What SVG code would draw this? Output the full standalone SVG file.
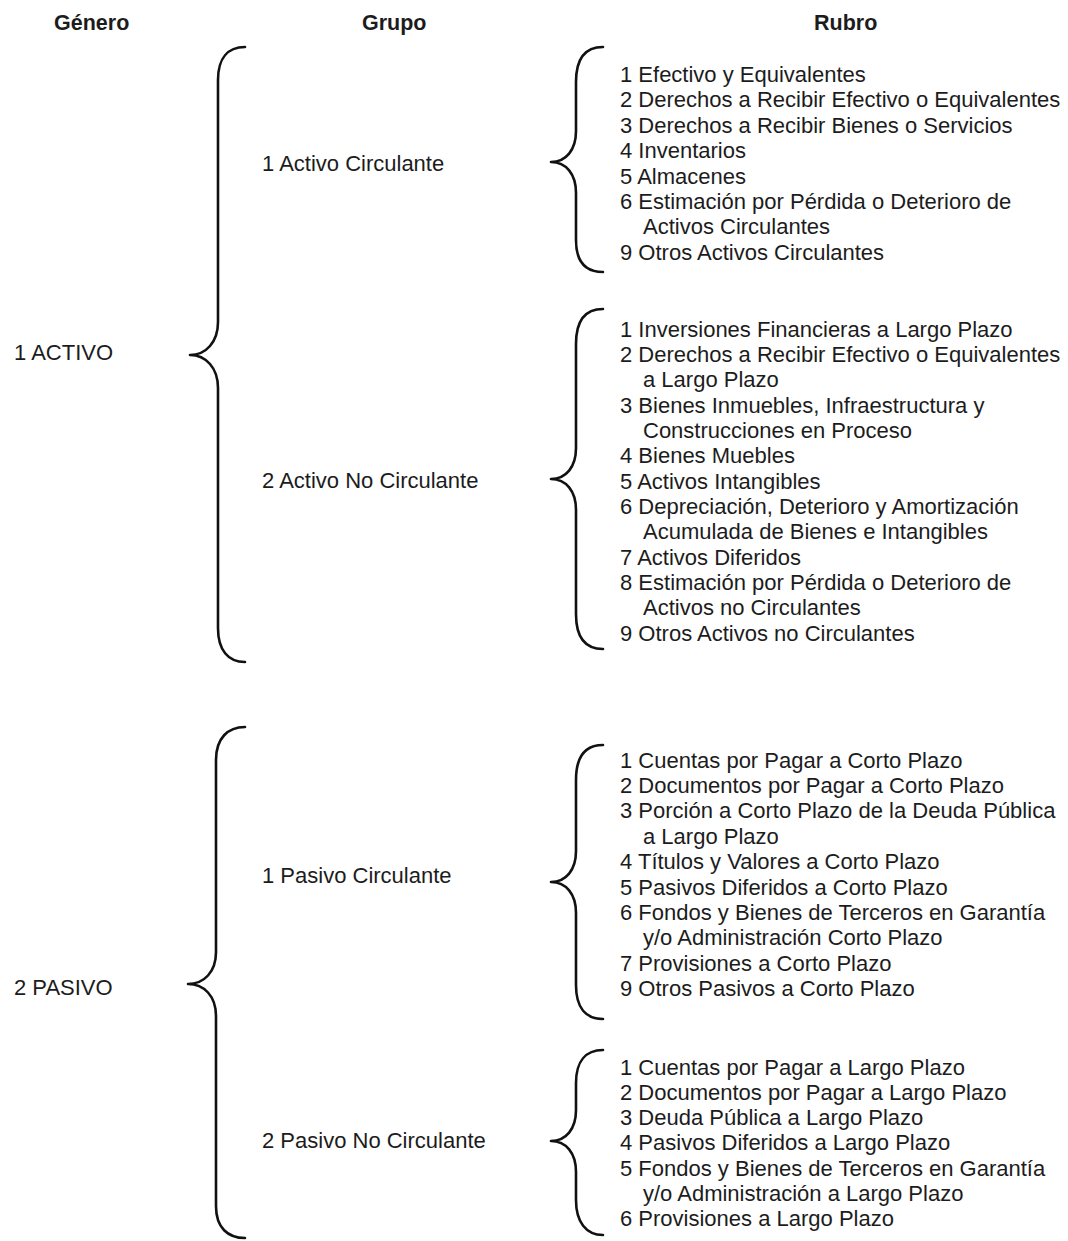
<svg xmlns="http://www.w3.org/2000/svg" width="1068" height="1241" viewBox="0 0 1068 1241">
<style>
text{font-family:"Liberation Sans",Arial,sans-serif;fill:#1c1c1c}
.h{font-size:21.5px;font-weight:bold}
.t{font-size:22px}
.br{fill:none;stroke:#111;stroke-width:2.6;stroke-linecap:round;stroke-linejoin:round}
</style>
<rect width="1068" height="1241" fill="#fff"/>
<g id="headers">
<text class="h" x="54" y="30">Género</text>
<text class="h" x="362" y="30">Grupo</text>
<text class="h" x="814" y="30">Rubro</text>
</g>
<g id="connectors">
<path class="br" d="M245,47 C228,47 218,58 218,80 L218,322 C218,342 206,355 190,355 C206,355 218,368 218,388 L218,628 C218,650 228,662 245,662"/>
<path class="br" d="M245,727 C228,727 216,738 216,760 L216,952 C216,972 204,984 188,984 C204,984 216,996 216,1016 L216,1206 C216,1228 228,1238 245,1238"/>
<path class="br" d="M603,47 C586,47 576,58 576,82 L576,131 C576,150 566,162 551,162 C566,162 576,174 576,193 L576,240 C576,262 586,272 603,272"/>
<path class="br" d="M603,309 C586,309 576,320 576,344 L576,448 C576,467 566,479 551,479 C566,479 576,491 576,510 L576,614 C576,638 586,649 603,649"/>
<path class="br" d="M603,745 C586,745 576,756 576,780 L576,851 C576,870 566,882 551,882 C566,882 576,894 576,913 L576,985 C576,1008 586,1019 603,1019"/>
<path class="br" d="M603,1050 C586,1050 576,1061 576,1083 L576,1110 C576,1129 566,1141 551,1141 C566,1141 576,1153 576,1172 L576,1200 C576,1222 586,1235 603,1235"/>
</g>
<g id="genero-activo"><text class="t" x="14" y="360">1 ACTIVO</text></g>
<g id="genero-pasivo"><text class="t" x="14" y="995">2 PASIVO</text></g>
<g id="grupo-activo-circulante"><text class="t" x="262" y="171">1 Activo Circulante</text></g>
<g id="grupo-activo-no-circulante"><text class="t" x="262" y="488">2 Activo No Circulante</text></g>
<g id="grupo-pasivo-circulante"><text class="t" x="262" y="883">1 Pasivo Circulante</text></g>
<g id="grupo-pasivo-no-circulante"><text class="t" x="262" y="1148">2 Pasivo No Circulante</text></g>
<g id="rubro-activo-circulante">
<text class="t" x="620" y="82">1 Efectivo y Equivalentes</text>
<text class="t" x="620" y="107.4">2 Derechos a Recibir Efectivo o Equivalentes</text>
<text class="t" x="620" y="132.8">3 Derechos a Recibir Bienes o Servicios</text>
<text class="t" x="620" y="158.2">4 Inventarios</text>
<text class="t" x="620" y="183.6">5 Almacenes</text>
<text class="t" x="620" y="209">6 Estimación por Pérdida o Deterioro de</text>
<text class="t" x="643" y="234.4">Activos Circulantes</text>
<text class="t" x="620" y="259.8">9 Otros Activos Circulantes</text>
</g>
<g id="rubro-activo-no-circulante">
<text class="t" x="620" y="336.5">1 Inversiones Financieras a Largo Plazo</text>
<text class="t" x="620" y="361.8">2 Derechos a Recibir Efectivo o Equivalentes</text>
<text class="t" x="643" y="387.2">a Largo Plazo</text>
<text class="t" x="620" y="412.5">3 Bienes Inmuebles, Infraestructura y</text>
<text class="t" x="643" y="437.8">Construcciones en Proceso</text>
<text class="t" x="620" y="463.2">4 Bienes Muebles</text>
<text class="t" x="620" y="488.5">5 Activos Intangibles</text>
<text class="t" x="620" y="513.8">6 Depreciación, Deterioro y Amortización</text>
<text class="t" x="643" y="539.2">Acumulada de Bienes e Intangibles</text>
<text class="t" x="620" y="564.5">7 Activos Diferidos</text>
<text class="t" x="620" y="589.8">8 Estimación por Pérdida o Deterioro de</text>
<text class="t" x="643" y="615.2">Activos no Circulantes</text>
<text class="t" x="620" y="640.5">9 Otros Activos no Circulantes</text>
</g>
<g id="rubro-pasivo-circulante">
<text class="t" x="620" y="767.5">1 Cuentas por Pagar a Corto Plazo</text>
<text class="t" x="620" y="792.9">2 Documentos por Pagar a Corto Plazo</text>
<text class="t" x="620" y="818.3">3 Porción a Corto Plazo de la Deuda Pública</text>
<text class="t" x="643" y="843.7">a Largo Plazo</text>
<text class="t" x="620" y="869.1">4 Títulos y Valores a Corto Plazo</text>
<text class="t" x="620" y="894.5">5 Pasivos Diferidos a Corto Plazo</text>
<text class="t" x="620" y="919.9">6 Fondos y Bienes de Terceros en Garantía</text>
<text class="t" x="643" y="945.3">y/o Administración Corto Plazo</text>
<text class="t" x="620" y="970.7">7 Provisiones a Corto Plazo</text>
<text class="t" x="620" y="996.1">9 Otros Pasivos a Corto Plazo</text>
</g>
<g id="rubro-pasivo-no-circulante">
<text class="t" x="620" y="1074.5">1 Cuentas por Pagar a Largo Plazo</text>
<text class="t" x="620" y="1099.8">2 Documentos por Pagar a Largo Plazo</text>
<text class="t" x="620" y="1125.1">3 Deuda Pública a Largo Plazo</text>
<text class="t" x="620" y="1150.4">4 Pasivos Diferidos a Largo Plazo</text>
<text class="t" x="620" y="1175.7">5 Fondos y Bienes de Terceros en Garantía</text>
<text class="t" x="643" y="1201">y/o Administración a Largo Plazo</text>
<text class="t" x="620" y="1226.3">6 Provisiones a Largo Plazo</text>
</g>
</svg>
